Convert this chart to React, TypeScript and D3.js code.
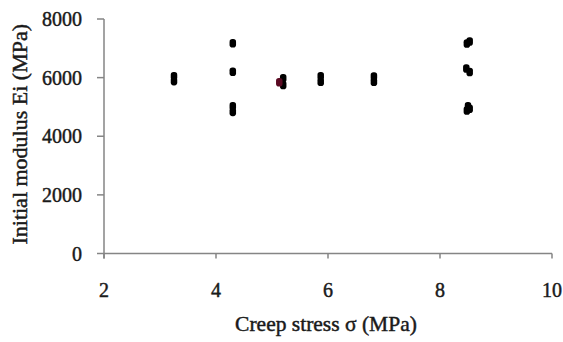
import React from "react";
import * as d3 from "d3";

const seriesBlackX = [3.25, 3.25, 4.3, 4.3, 4.3, 4.3, 5.2, 5.2, 5.87, 5.87, 6.82, 6.82, 8.48, 8.53, 8.47, 8.53, 8.48, 8.5, 8.53];
const seriesBlackY = [5880, 6050, 7170, 6200, 5020, 4830, 5750, 5980, 5860, 6050, 5860, 6040, 7160, 7230, 6310, 6190, 4880, 5020, 4940];
const seriesRedX = [5.13];
const seriesRedY = [5840];

const xTicks = [2, 4, 6, 8, 10];
const yTicks = [0, 2000, 4000, 6000, 8000];

const xTitle = "Creep stress σ (MPa)";
const yTitle = "Initial modulus Ei (MPa)";

export default function App() {
  const W = 563, H = 342;
  const left = 104, right = 552, top = 19, bottom = 253.5;
  const x = d3.scaleLinear().domain([2, 10]).range([left, right]);
  const y = d3.scaleLinear().domain([0, 8000]).range([bottom, top]);
  const axisColor = "#858585";
  const font = "'Liberation Serif', 'Times New Roman', serif";
  const textColor = "#1a1a1a";
  const black = seriesBlackX.map((v, i) => ({ x: v, y: seriesBlackY[i] }));
  const red = seriesRedX.map((v, i) => ({ x: v, y: seriesRedY[i] }));
  const mw = 6.5, mh = 8.5;
  return (
    <svg width={W} height={H} style={{ position: "absolute", left: 0, top: 0, background: "#fff" }} fontFamily={font}>
      {/* y axis */}
      <line x1={left} x2={left} y1={top} y2={bottom + 5} stroke={axisColor} strokeWidth={1.5} />
      {yTicks.map((t) => (
        <g key={"y" + t}>
          <line x1={left - 7} x2={left} y1={y(t)} y2={y(t)} stroke={axisColor} strokeWidth={1.5} />
          <text x={82} y={y(t) + 7} textAnchor="end" fontSize={20} fill={textColor} stroke={textColor} strokeWidth={0.45}>{t}</text>
        </g>
      ))}
      {/* x axis */}
      <line x1={left} x2={right} y1={bottom} y2={bottom} stroke={axisColor} strokeWidth={1.5} />
      {xTicks.map((t) => (
        <g key={"x" + t}>
          <line x1={x(t)} x2={x(t)} y1={bottom} y2={bottom + 5} stroke={axisColor} strokeWidth={1.5} />
          <text x={x(t)} y={297} textAnchor="middle" fontSize={20} fill={textColor} stroke={textColor} strokeWidth={0.45}>{t}</text>
        </g>
      ))}
      <text x={(left + right) / 2 - 2} y={331} textAnchor="middle" fontSize={21.5} fill={textColor} stroke={textColor} strokeWidth={0.45}>{xTitle}</text>
      <text transform={`translate(27, ${(top + bottom) / 2 - 2}) rotate(-90)`} textAnchor="middle" fontSize={22} fill={textColor} stroke={textColor} strokeWidth={0.45}>{yTitle}</text>
      {black.map((d, i) => (
        <rect key={"b" + i} x={x(d.x) - mw / 2} y={y(d.y) - mh / 2} width={mw} height={mh} rx={2.8} fill="#000" />
      ))}
      {red.map((d, i) => (
        <rect key={"r" + i} x={x(d.x) - mw / 2} y={y(d.y) - mh / 2} width={mw} height={mh} rx={2.8} fill="#5a0a22" />
      ))}
    </svg>
  );
}
